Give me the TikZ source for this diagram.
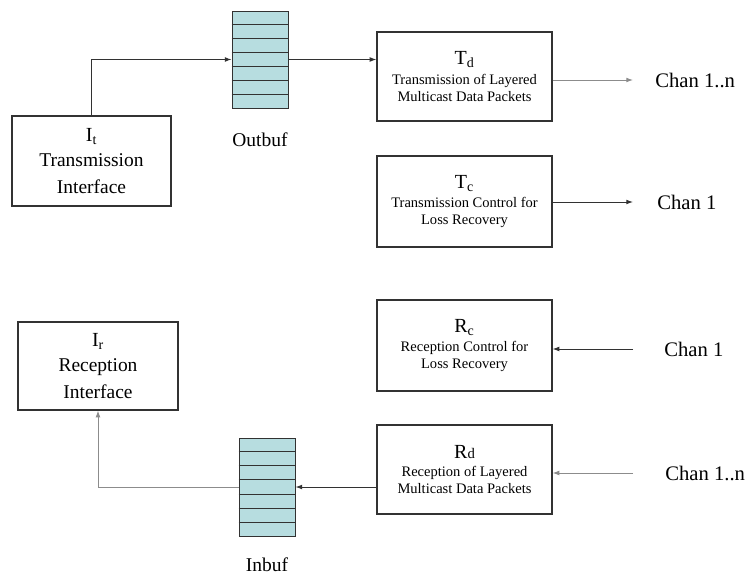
\documentclass[tikz,border=0pt]{standalone}
\usepackage{fontspec}
\setmainfont{LiberationSerif}[Extension=.ttf, UprightFont=*-Regular, BoldFont=*-Bold, ItalicFont=*-Italic, BoldItalicFont=*-BoldItalic]
\usetikzlibrary{arrows.meta,calc}
\definecolor{buffill}{RGB}{183,221,224}
\definecolor{boxline}{RGB}{50,50,50}
\definecolor{grayline}{RGB}{140,140,140}
\tikzset{
  procbox/.style={draw=boxline, line width=0.9pt, fill=white, align=center, inner sep=0pt,
    minimum width=131.25pt, font=\fontsize{10.9}{12.75}\selectfont},
  ifbox/.style={draw=boxline, line width=0.9pt, fill=white, align=center, inner sep=0pt,
    font=\fontsize{14.6}{20.25}\selectfont},
  bufbox/.style={draw=boxline, line width=0.7pt, fill=buffill, minimum width=42pt, inner sep=0pt},
  buflabel/.style={font=\fontsize{14.6}{16}\selectfont, inner sep=0pt},
  chan/.style={font=\fontsize{15.5}{17}\selectfont, inner sep=0pt, anchor=west},
  conn/.style={line width=0.7pt, draw=boxline, -{Latex[length=5pt,width=3.6pt]}},
  gconn/.style={line width=0.7pt, draw=grayline, -{Latex[length=5pt,width=3.6pt]}},
}
\newcommand{\bigsym}[2]{{\fontsize{15}{15}\selectfont #1\textsubscript{#2}}}
\begin{document}
\begin{tikzpicture}[x=0.75pt,y=-0.75pt]
\useasboundingbox (0,0) rectangle (749,577);

% buffers
\node[bufbox, minimum height=72.75pt] (ob) at (260,59.5) {};
\node[bufbox, minimum height=73.5pt] (ib) at (267,487) {};
\foreach \b in {ob,ib}{
  \foreach \i in {1,...,6}{
    \draw[boxline, line width=0.7pt] ($(\b.north west)!\i/7!(\b.south west)$) -- ($(\b.north east)!\i/7!(\b.south east)$);
  }
}
\node[buflabel] (obl) at (260,140) {Outbuf};
\node[buflabel] (ibl) at (267,565) {Inbuf};

% interface boxes
\node[ifbox, minimum width=119.25pt, minimum height=67.5pt] (it) at (91.5,161)
  {\bigsym{I}{t}\\[-2pt] Transmission\\ Interface};
\node[ifbox, minimum width=120pt, minimum height=66pt] (ir) at (98,366)
  {\bigsym{I}{r}\\[-2pt] Reception\\ Interface};

% process boxes
\node[procbox, minimum height=66.75pt] (td) at (464.5,76.5)
  {\bigsym{T}{d}\\[2pt] Transmission of Layered\\ Multicast Data Packets};
\node[procbox, minimum height=68.25pt] (tc) at (464.5,201.5)
  {\bigsym{T}{c}\\[2pt] Transmission Control for\\ Loss Recovery};
\node[procbox, minimum height=68.25pt] (rc) at (464.5,345.5)
  {\bigsym{R}{c}\\[1pt] Reception Control for\\ Loss Recovery};
\node[procbox, minimum height=66.75pt] (rd) at (464.5,469.5)
  {{\fontsize{15}{15}\selectfont R{\fontsize{11}{11}\selectfont d}}\\[1pt] Reception of Layered\\ Multicast Data Packets};

% channel labels
\node[chan] (ca) at (655,80) {Chan 1..n};
\node[chan] (cb) at (657,202) {Chan 1};
\node[chan] (cc) at (664,349) {Chan 1};
\node[chan] (cd) at (665,473) {Chan 1..n};

% connectors
\draw[conn] (it.north) |- (ob.west);
\draw[conn] (ob.east) -- (ob.east -| td.west);
\draw[gconn, shorten >=16.5pt] (td.east |- ca.west) -- (ca.west);
\draw[conn, shorten >=18pt] (tc.east |- cb.west) -- (cb.west);
\draw[conn, shorten <=23.25pt] (cc.west) -- (cc.west -| rc.east);
\draw[gconn, shorten <=24pt] (cd.west) -- (cd.west -| rd.east);
\draw[conn] (ib.east -| rd.west) -- (ib.east);
\draw[gconn] (ib.west) -| (ir.south);
\end{tikzpicture}
\end{document}
